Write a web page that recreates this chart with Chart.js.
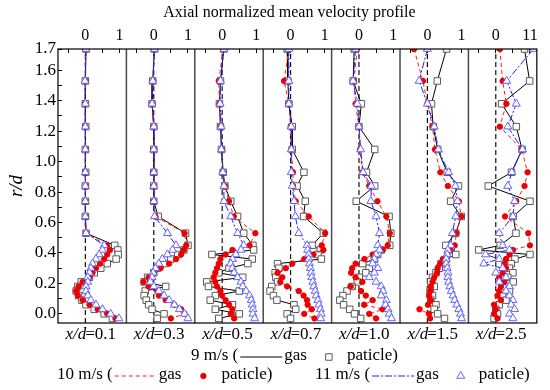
<!DOCTYPE html>
<html>
<head>
<meta charset="utf-8">
<script src="https://cdn.jsdelivr.net/npm/chart.js"></script>
<style>
  html, body { margin: 0; padding: 0; background: #fff; }
</style>
</head>
<body>
<canvas id="profile" width="550" height="390"></canvas>
<script>
const FONT = 'Liberation Serif, serif';

// axial stations, one panel each
const panelLabels = ['0.1', '0.3', '0.5', '0.7', '1.0', '1.5', '2.5'];

// radial positions r/d where the profiles were sampled (top to bottom)
const rdLevels = [1.74, 1.53, 1.38, 1.23, 1.08, 0.93, 0.84, 0.74, 0.64, 0.53,
  0.45, 0.42, 0.39, 0.36, 0.33, 0.30, 0.27, 0.24, 0.21, 0.18, 0.15, 0.12, 0.09, 0.06, 0.03, 0.00, -0.03];

const yTickValues = [0, 0.1, 0.2, 0.3, 0.4, 0.5, 0.6, 0.7, 0.8, 0.9, 1.0, 1.1, 1.2, 1.3, 1.4, 1.5, 1.6, 1.74];
const topTickValues = [-0.5, 0, 0.5, 1];
const yMin = -0.06;
const yMax = 1.74;

// 9 m/s normalized mean velocity, one row per panel
const v9 = [
  [0.02, 0.0, 0.0, 0.01, 0.0, 0.01, 0.0, 0.0, 0.0, 0.02,
    0.86, 0.95, 0.96, 0.9, 0.64, 0.45, 0.26, 0.12, -0.12, -0.22, -0.27, -0.2, -0.1, 0.02, 0.26, 0.55, 0.79],
  [0.02, -0.03, -0.05, 0.0, 0.0, 0.0, 0.0, 0.0, 0.13, 0.93,
    1.0, 0.88, 0.7, 0.5, 0.3, 0.1, 0.0, -0.18, -0.28, 0.35, -0.25, -0.28, -0.22, -0.15, -0.05, 0.3, 0.1],
  [0.05, -0.05, -0.08, -0.05, -0.02, 0.03, 0.08, 0.25, 0.45, 0.63,
    0.9, 0.92, -0.3, 0.88, 0.75, 0.2, -0.1, 0.6, -0.45, -0.4, 0.5, -0.2, -0.35, 0.3, -0.2, 0.5, -0.1],
  [-0.1, -0.08, -0.05, 0.05, 0.05, 0.39, 0.19, 0.43, 0.38, 0.96,
    0.63, 0.87, 0.8, 0.9, -0.38, -0.34, -0.45, -0.43, -0.38, -0.55, -0.6, -0.5, -0.4, 0.1, 0.15, -0.1, 0.0],
  [-0.14, -0.17, 0.07, 0.0, 0.46, 0.22, 0.46, -0.08, 0.88, 0.93,
    0.9, 0.65, 0.55, 0.45, 0.11, 0.3, 0.2, 0.01, -0.05, -0.2, -0.35, -0.47, -0.56, -0.45, -0.27, -0.13, 0.05],
  [0.56, 0.29, 0.12, 0.17, 0.3, 0.58, 0.91, 0.68, 0.99, 0.83,
    0.54, 0.7, 0.83, 0.55, 0.4, 0.35, 0.25, 0.15, 0.1, 0.2, 0.08, 0.15, 0.1, 0.25, 0.2, 0.3, 0.5],
  [0.84, 0.99, 0.17, 0.6, 0.77, 0.46, -0.22, 1.0, 0.51, 0.59,
    0.13, -0.5, 1.0, 0.56, 0.45, 0.4, 0.5, 0.35, 0.51, 0.3, 0.4, 0.2, 0.3, 0.1, 0.0, 0.05, -0.05]
];

// 10 m/s
const v10 = [
  [0.0, 0.01, -0.01, 0.0, 0.01, 0.0, 0.01, 0.0, 0.01, 0.02,
    0.64, 0.72, 0.64, 0.55, 0.43, 0.31, 0.21, 0.12, -0.08, -0.2, -0.27, -0.22, -0.08, 0.12, 0.36, 0.64, 0.88],
  [0.0, -0.02, -0.05, 0.0, 0.01, 0.0, 0.0, 0.0, 0.05, 0.9,
    0.95, 0.88, 0.8, 0.65, 0.45, 0.2, 0.0, -0.15, -0.3, -0.15, 0.1, 0.15, 0.35, 0.6, 0.8, 0.9, 0.5],
  [0.03, -0.1, -0.08, -0.05, 0.0, 0.02, 0.08, 0.2, 0.34, 0.97,
    0.8, 0.3, 0.1, -0.05, -0.1, -0.15, -0.2, -0.25, -0.2, -0.15, -0.05, 0.0, 0.1, 0.2, 0.3, 0.25, 0.35],
  [-0.05, -0.19, -0.05, 0.0, 0.02, 0.07, 0.07, 0.15, 0.53, 1.01,
    0.91, 0.96, 0.67, 0.4, 0.05, -0.14, -0.38, -0.24, -0.3, -0.1, 0.24, 0.38, 0.48, 0.5, 0.62, 0.4, 0.7],
  [-0.05, -0.15, -0.1, 0.0, 0.03, 0.1, 0.3, 0.54, 0.8, 0.9,
    0.84, 0.7, 0.4, 0.16, -0.1, -0.2, -0.23, -0.1, 0.1, -0.25, 0.06, 0.2, 0.4, 0.15, 0.69, 0.3, 0.5],
  [-0.39, -0.13, 0.0, 0.15, 0.22, 0.38, 0.6, 0.92, 0.99, 0.85,
    0.8, 0.68, 0.58, 0.45, 0.38, 0.3, 0.28, 0.2, 0.15, 0.1, 0.08, 0.05, 0.1, 0.02, -0.23, 0.05, 0.08],
  [0.12, 0.2, 0.31, 0.12, 0.76, 0.93, 0.84, 0.6, 0.27, 0.95,
    1.0, 0.5, 0.4, 0.3, 0.25, 0.3, 0.2, 0.1, 0.25, 0.15, 0.1, 0.05, 0.15, -0.05, 0.0, -0.05, 0.05]
];

// 11 m/s
const v11 = [
  [0.02, -0.01, 0.0, 0.0, 0.0, 0.0, 0.0, 0.0, 0.0, 0.02,
    0.55, 0.5, 0.4, 0.31, 0.21, 0.16, 0.12, 0.07, 0.07, 0.02, 0.02, 0.07, 0.16, 0.31, 0.5, 0.74, 0.98],
  [0.02, -0.03, -0.05, 0.0, 0.0, 0.0, 0.0, 0.0, 0.02, 0.4,
    0.65, 0.55, 0.4, 0.25, 0.15, 0.05, -0.02, -0.05, -0.1, 0.0, 0.15, 0.3, 0.45, 0.6, 0.75, 0.9, 1.0],
  [0.05, -0.05, -0.06, -0.03, -0.02, 0.02, 0.05, 0.05, 0.25, 0.45,
    0.63, 0.55, 0.4, 0.3, 0.25, 0.3, 0.35, 0.45, 0.55, 0.6, 0.7, 0.8, 0.85, 0.88, 0.9, 0.9, 0.95],
  [-0.05, -0.05, -0.05, 0.02, 0.02, 0.02, 0.05, 0.1, 0.14, 0.24,
    0.48, 0.5, 0.53, 0.53, 0.55, 0.58, 0.6, 0.62, 0.65, 0.68, 0.72, 0.75, 0.8, 0.83, 0.87, 0.9, 0.88],
  [-0.1, -0.17, -0.05, 0.0, 0.05, 0.12, 0.36, 0.35, 0.5, 0.6,
    0.55, 0.6, 0.5, 0.45, 0.4, 0.55, 0.45, 0.3, 0.5, 0.65, 0.7, 0.65, 0.8, 0.78, 0.85, 0.88, 0.95],
  [0.0, -0.24, 0.0, 0.2, 0.32, 0.62, 0.82, 0.88, 0.83, 0.73,
    0.68, 0.6, 0.58, 0.55, 0.55, 0.58, 0.6, 0.6, 0.62, 0.66, 0.7, 0.75, 0.8, 0.86, 0.92, 0.97, 1.0],
  [1.1, 0.32, 0.6, 0.35, 0.78, 0.47, 0.35, 0.55, 0.5, 0.1,
    0.2, 0.4, -0.3, 0.1, -0.35, 0.2, 0.0, 0.3, 0.1, 0.4, 0.3, 0.4, 0.5, 0.45, 0.55, 0.4, 0.5]
];

const series = [
  { speed: '9 m/s', values: v9, line: '#000000', dash: [], style: 'rect', radius: 4.6, edge: '#5a5a5a', fill: '#ffffff', order: 2 },
  { speed: '10 m/s', values: v10, line: '#ff1a1a', dash: [4, 3], style: 'circle', radius: 2.7, edge: '#ee0000', fill: '#ee0000', order: 1 },
  { speed: '11 m/s', values: v11, line: '#2020ff', dash: [7, 2, 2, 2], style: 'triangle', radius: 4.6, edge: '#6262ff', fill: '#ffffff', order: 0 }
];

const datasets = [];
panelLabels.forEach((lab, p) => {
  datasets.push({
    label: 'x/d=' + lab + ' zero',
    data: [{ x: 0, y: yMin }, { x: 0, y: yMax }],
    xAxisID: 'p' + p, yAxisID: 'y',
    showLine: true, borderColor: '#111', borderWidth: 1.2, borderDash: [5, 3],
    pointRadius: 0, order: 3
  });
  series.forEach(s => {
    datasets.push({
      label: s.speed + ' x/d=' + lab,
      data: s.values[p].map((v, i) => ({ x: v, y: rdLevels[i] })),
      xAxisID: 'p' + p, yAxisID: 'y',
      showLine: true, borderColor: s.line, borderWidth: 1, borderDash: s.dash,
      pointStyle: s.style, pointRadius: s.radius, pointBorderColor: s.edge,
      pointBackgroundColor: s.fill, pointBorderWidth: 1, order: s.order
    });
  });
});

const scales = {
  y: {
    type: 'linear', position: 'left', min: yMin, max: yMax,
    afterBuildTicks: s => { s.ticks = yTickValues.map(v => ({ value: v })); },
    afterFit: s => { s.width = 54; },
    ticks: {
      autoSkip: false, padding: 6, color: '#000', font: { family: FONT, size: 17 },
      callback: v => v === yMax ? '1.7' : (Math.round(v * 10) % 2 === 0 ? v.toFixed(1) : '')
    },
    grid: { drawOnChartArea: false, tickLength: -4, color: '#000' },
    border: { display: false },
    title: { display: true, text: 'r/d', color: '#000', padding: { top: 2, bottom: 0 },
      font: { family: FONT, size: 19, style: 'italic' } }
  }
};
panelLabels.forEach((lab, p) => {
  scales['p' + p] = {
    type: 'linear', position: 'top', stack: 'panels', stackWeight: 1,
    weight: panelLabels.length - p,
    min: -0.8, max: 1.2,
    afterBuildTicks: s => { s.ticks = topTickValues.map(v => ({ value: v })); },
    afterFit: s => { s.height = 49; },
    ticks: {
      autoSkip: false, maxRotation: 0, padding: 8, color: '#000', font: { family: FONT, size: 16 },
      callback: v => v === 0 ? '0' : (v === 1 ? (p === panelLabels.length - 1 ? '11' : '1') : '')
    },
    grid: { drawOnChartArea: false, tickLength: -4, color: '#000' },
    border: { display: false }
  };
});

function drawMarker(ctx, s, x, y) {
  ctx.save();
  ctx.strokeStyle = s.edge;
  ctx.fillStyle = s.fill;
  ctx.lineWidth = 1;
  ctx.setLineDash([]);
  ctx.beginPath();
  if (s.style === 'rect') {
    const h = s.radius * Math.SQRT1_2;
    ctx.rect(x - h, y - h, 2 * h, 2 * h);
  } else if (s.style === 'circle') {
    ctx.arc(x, y, s.radius, 0, Math.PI * 2);
  } else {
    const r = s.radius;
    ctx.moveTo(x, y - r);
    ctx.lineTo(x + r * 0.866, y + r * 0.5);
    ctx.lineTo(x - r * 0.866, y + r * 0.5);
    ctx.closePath();
  }
  ctx.fill();
  ctx.stroke();
  ctx.restore();
}

function drawLegendEntry(ctx, s, x, y) {
  ctx.font = '17px ' + FONT;
  ctx.fillStyle = '#000';
  ctx.textBaseline = 'middle';
  const head = s.speed + ' (';
  ctx.fillText(head, x, y);
  x += ctx.measureText(head).width + 2;
  ctx.save();
  ctx.strokeStyle = s.line;
  ctx.lineWidth = 1;
  ctx.setLineDash(s.dash);
  ctx.beginPath();
  ctx.moveTo(x, y + 1);
  ctx.lineTo(x + 42, y + 1);
  ctx.stroke();
  ctx.restore();
  x += 44;
  ctx.fillText('gas', x, y);
  x += ctx.measureText('gas').width + 22;
  drawMarker(ctx, s, x, y + 1);
  ctx.fillText('paticle)', x + 18, y);
}

const panelDecor = {
  id: 'panelDecor',
  afterDatasetsDraw(chart) {
    const { ctx, chartArea: a } = chart;
    ctx.save();
    ctx.strokeStyle = '#4a4a4a';
    ctx.lineWidth = 1.5;
    for (let i = 1; i < panelLabels.length; i++) {
      const sx = chart.scales['p' + i].left;
      ctx.beginPath();
      ctx.moveTo(sx, a.top);
      ctx.lineTo(sx, a.bottom);
      ctx.stroke();
    }
    ctx.strokeStyle = '#000';
    ctx.lineWidth = 1.2;
    ctx.strokeRect(a.left, a.top, a.width, a.height);
    ctx.restore();
  },
  afterDraw(chart) {
    const { ctx, chartArea: a } = chart;
    ctx.save();
    ctx.fillStyle = '#000';
    ctx.textBaseline = 'middle';

    // heading
    ctx.font = '16px ' + FONT;
    ctx.textAlign = 'center';
    ctx.fillText('Axial normalized mean velocity profile', (a.left + a.right) / 2 - 8, 13);

    // station labels under each panel
    ctx.textAlign = 'left';
    panelLabels.forEach((lab, p) => {
      const sc = chart.scales['p' + p];
      const mid = (sc.left + sc.right) / 2;
      ctx.font = 'italic 17px ' + FONT;
      const w1 = ctx.measureText('x/d').width;
      ctx.font = '17px ' + FONT;
      const w2 = ctx.measureText('=' + lab).width;
      let x = mid - (w1 + w2) / 2 - 1;
      ctx.font = 'italic 17px ' + FONT;
      ctx.fillText('x/d', x, a.bottom + 12);
      ctx.font = '17px ' + FONT;
      ctx.fillText('=' + lab, x + w1 - 1, a.bottom + 12);
    });

    // legend
    drawLegendEntry(ctx, series[0], 191, 356);
    drawLegendEntry(ctx, series[1], 57, 375);
    drawLegendEntry(ctx, series[2], 315, 375);
    ctx.restore();
  }
};

Chart.defaults.font.family = FONT;

const chart = new Chart(document.getElementById('profile').getContext('2d'), {
  type: 'scatter',
  data: { datasets: datasets },
  options: {
    responsive: false,
    animation: false,
    layout: { padding: { left: 4, top: 0, right: 8, bottom: 67 } },
    scales: scales,
    plugins: {
      legend: { display: false },
      tooltip: { enabled: false }
    }
  },
  plugins: [panelDecor]
});
</script>
</body>
</html>
